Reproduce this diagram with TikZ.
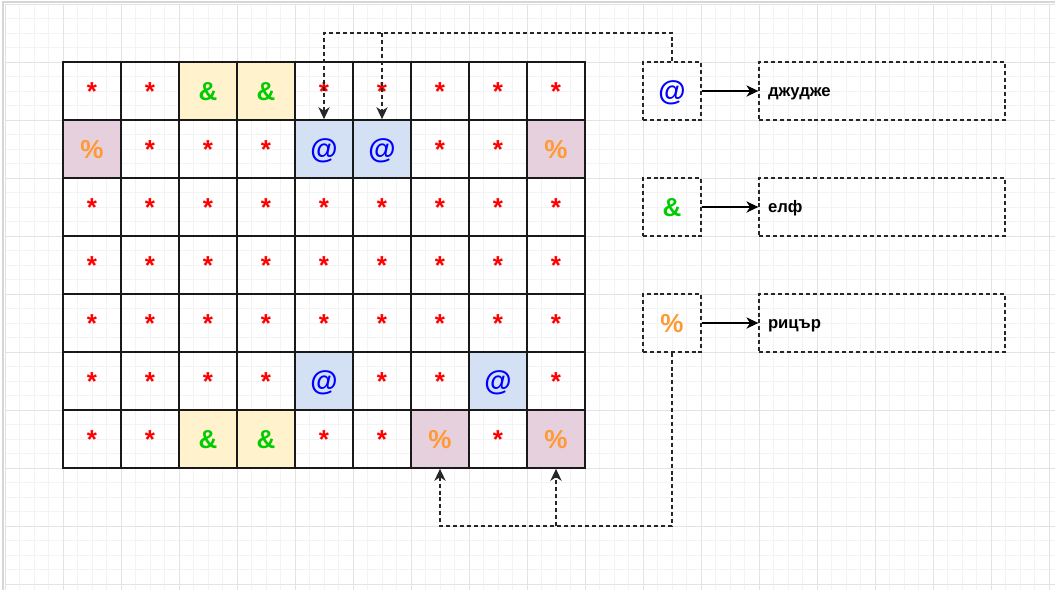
\documentclass[tikz,border=0pt]{standalone}
\usepackage{fontspec}
\setmainfont{Liberation Sans}
\usetikzlibrary{arrows.meta}
\definecolor{gminor}{HTML}{F3F3F3}
\definecolor{gmajor}{HTML}{E3E3E3}
\definecolor{gframe}{HTML}{D6D6D6}
\definecolor{fillA}{HTML}{FFF2CC}
\definecolor{fillD}{HTML}{D4E1F5}
\definecolor{fillK}{HTML}{E6D0DE}
\definecolor{symA}{HTML}{00CC00}
\definecolor{symK}{HTML}{FF9933}
\tikzset{
  cell/.style={draw=black!90, line width=1.3pt, minimum width=43.5pt, minimum height=43.5pt,
    inner sep=0pt, font=\bfseries\fontsize{19.5}{19.5}\selectfont, text height=14pt, text depth=0pt},
  cellS/.style={node contents={*}, text=red},
  cellA/.style={node contents={\&}, text=symA, fill=fillA},
  cellD/.style={node contents={\fontsize{21}{21}\selectfont @}, text=blue, fill=fillD},
  cellK/.style={node contents={\%}, text=symK, fill=fillK},
  lbox/.style={draw=black!85, line width=1pt, dash pattern=on 3pt off 2.2pt, minimum width=43.5pt,
    minimum height=43.5pt, inner sep=0pt, font=\bfseries\fontsize{19.5}{19.5}\selectfont,
    text height=14pt, text depth=0pt},
  bbox/.style={draw=black!85, line width=1pt, dash pattern=on 3pt off 2.2pt, minimum width=184.5pt,
    minimum height=43.5pt, inner xsep=6.75pt, inner ysep=0pt, text width=171pt, align=left,
    text height=7.5pt, text depth=0pt, font=\bfseries\fontsize{12.5}{13}\selectfont},
  solidarr/.style={draw=black, line width=0.9pt, -{Stealth[length=9pt,width=8.5pt,inset=2.8pt]}},
  dasharr/.style={draw=black!85, line width=0.9pt, dash pattern=on 3pt off 2.2pt,
    -{Stealth[length=9pt,width=8.5pt,inset=2.8pt]}}
}
\begin{document}
\begin{tikzpicture}[x=0.75pt,y=-0.75pt]
\useasboundingbox (0,0) rectangle (1055,590);
\fill[white] (0,0) rectangle (1055,590);
% background grid
\foreach \i in {0,...,72} { \draw[gminor, line width=0.75pt] ({5+14.5*\i},4) -- ({5+14.5*\i},590); }
\foreach \i in {0,...,40} { \draw[gminor, line width=0.75pt] (5,{4+14.5*\i}) -- (1055,{4+14.5*\i}); }
\foreach \i in {0,...,18} { \draw[gmajor, line width=0.75pt] ({5+58*\i},4) -- ({5+58*\i},590); }
\foreach \i in {0,...,10} { \draw[gmajor, line width=0.75pt] (5,{4+58*\i}) -- (1055,{4+58*\i}); }
\draw[gframe, line width=1.5pt] (3,590) -- (3,2) -- (1055,2);
% board
\foreach \t [count=\j from 0] in {cellS,cellS,cellA,cellA,cellS,cellS,cellS,cellS,cellS}
  { \node[cell, name=c-0-\j, at={({92+58*\j},91)}, \t]; }
\foreach \t [count=\j from 0] in {cellK,cellS,cellS,cellS,cellD,cellD,cellS,cellS,cellK}
  { \node[cell, name=c-1-\j, at={({92+58*\j},149)}, \t]; }
\foreach \r in {2,3,4} {
  \foreach \j in {0,...,8} { \node[cell, name=c-\r-\j, at={({92+58*\j},{91+58*\r})}, cellS]; }
}
\foreach \t [count=\j from 0] in {cellS,cellS,cellS,cellS,cellD,cellS,cellS,cellD,cellS}
  { \node[cell, name=c-5-\j, at={({92+58*\j},381)}, \t]; }
\foreach \t [count=\j from 0] in {cellS,cellS,cellA,cellA,cellS,cellS,cellK,cellS,cellK}
  { \node[cell, name=c-6-\j, at={({92+58*\j},439)}, \t]; }
% legend
\node[lbox, text=blue] (l1) at (672,91) {\fontsize{21}{21}\selectfont @};
\node[lbox, text=symA] (l2) at (672,207) {\&};
\node[lbox, text=symK] (l3) at (672,323) {\%};
\node[bbox] (b1) at (882,91) {джудже};
\node[bbox] (b2) at (882,207) {елф};
\node[bbox] (b3) at (882,323) {рицър};
\draw[solidarr] (l1.east) -- (b1.west);
\draw[solidarr] (l2.east) -- (b2.west);
\draw[solidarr] (l3.east) -- (b3.west);
% dashed connectors
\coordinate (topy) at (0,33);
\coordinate (boty) at (0,526);
\draw[dasharr] (l1.north) -- (l1.north |- topy) -| (c-1-4.north);
\draw[dasharr] (c-1-5.north |- topy) -- (c-1-5.north);
\draw[dasharr] (l3.south) -- (l3.south |- boty) -| (c-6-6.south);
\draw[dasharr] (c-6-8.south |- boty) -- (c-6-8.south);
\end{tikzpicture}
\end{document}
